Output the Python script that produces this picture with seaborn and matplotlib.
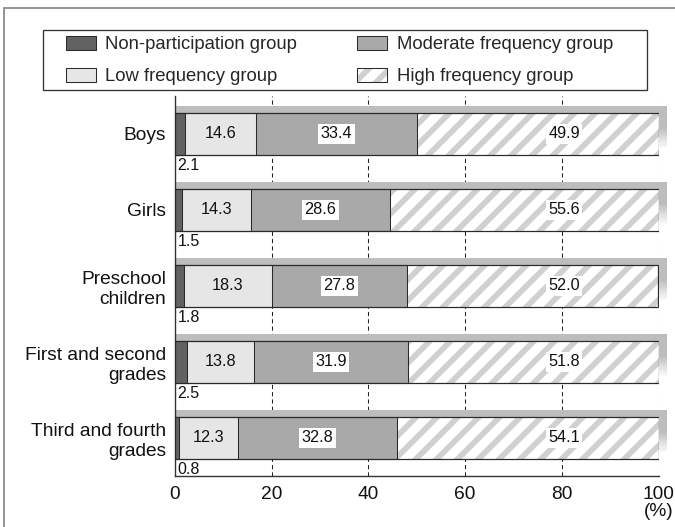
import matplotlib
matplotlib.use("Agg")
import matplotlib.pyplot as plt
import seaborn as sns
import pandas as pd
import numpy as np
from matplotlib.patches import Rectangle, Patch
from matplotlib.legend_handler import HandlerTuple
from matplotlib.colors import to_rgb

# ---------------- data ----------------
categories = ["Boys", "Girls", "Preschool\nchildren",
              "First and second\ngrades", "Third and fourth\ngrades"]
non_participation = [2.1, 1.5, 1.8, 2.5, 0.8]
low_frequency = [14.6, 14.3, 18.3, 13.8, 12.3]
moderate_frequency = [33.4, 28.6, 27.8, 31.9, 32.8]
high_frequency = [49.9, 55.6, 52.0, 51.8, 54.1]
group_names = ["Non-participation group", "Low frequency group",
               "Moderate frequency group", "High frequency group"]
x_ticks = [0, 20, 40, 60, 80, 100]
x_unit_label = "(%)"

# ---------------- style ----------------
W, H, DPI = 675, 527, 125
sns.set_style("white")
plt.rcParams["font.family"] = ["Liberation Sans", "DejaVu Sans"]
plt.rcParams["hatch.linewidth"] = 3.3

C_NON = "#626262"
C_LOW = "#e6e6e6"
C_MOD = "#a9a9a9"
C_HATCH = "#d0d0d0"
C_SHADOW = "#bdbdbd"
C_EDGE = "#2a2a2a"
FS = 11.0
FS_LEG = 10.7
FS_VAL = 9.4
Z_SHADOW, Z_BAR, Z_OUT, Z_TXT = 10, 11, 12, 14

fig = plt.figure(figsize=(W / DPI, H / DPI), dpi=DPI)
ax = fig.add_axes([175 / W, 1 - 476 / H, (658.5 - 175) / W, 380 / H])

df = pd.DataFrame({
    "category": categories,
    "non": non_participation,
    "low": low_frequency,
    "mod": moderate_frequency,
    "high": high_frequency,
})
df["c_non"] = df["non"]
df["c_low"] = df["c_non"] + df["low"]
df["c_mod"] = df["c_low"] + df["mod"]
df["c_high"] = df["c_mod"] + df["high"]

BAR_W = 0.55
common = dict(data=df, y="category", orient="h", width=BAR_W,
              saturation=1, errorbar=None, ax=ax)

# hatched (high frequency) base spanning the whole bar
sns.barplot(x="c_high", color="white", edgecolor=C_HATCH, linewidth=0,
            hatch="//", zorder=Z_BAR, **common)
sns.barplot(x="c_mod", color=C_MOD, edgecolor=C_EDGE, linewidth=0.6,
            zorder=Z_BAR, **common)
sns.barplot(x="c_low", color=C_LOW, edgecolor=C_EDGE, linewidth=0.6,
            zorder=Z_BAR, **common)
sns.barplot(x="c_non", color=C_NON, edgecolor=C_EDGE, linewidth=0.6,
            zorder=Z_BAR, **common)
# outline of the full bar
sns.barplot(x="c_high", fill=False, color=C_EDGE, linewidth=0.7,
            zorder=Z_OUT, **common)

ax.set_xlim(0, 100)
ax.set_ylim(len(categories) - 0.5, -0.5)

# drop shadows behind each bar (offset up and to the right, fading)
ax_w_px = (658.5 - 175)
ax_h_px = 380
dx = 8.5 * 100 / ax_w_px
dy = 7.0 * len(categories) / ax_h_px
shadow_rgb = np.array(to_rgb(C_SHADOW))
n_steps = 8
for i, total in enumerate(df["c_high"]):
    top = i - BAR_W / 2 - dy
    ax.add_patch(Rectangle((0, top), total + dx, dy, facecolor=C_SHADOW,
                           edgecolor="none", zorder=Z_SHADOW,
                           clip_on=False))
    strip_top = top + dy
    strip_h = BAR_W - dy
    solid_h = strip_h * 0.45
    ax.add_patch(Rectangle((total, strip_top), dx, solid_h,
                           facecolor=C_SHADOW, edgecolor="none",
                           zorder=Z_SHADOW, clip_on=False))
    step_h = (strip_h - solid_h) / n_steps
    for k in range(n_steps):
        t = (k + 1) / (n_steps + 1)
        col = shadow_rgb * (1 - t) + np.ones(3) * t
        ax.add_patch(Rectangle((total, strip_top + solid_h + k * step_h),
                               dx, step_h, facecolor=col, edgecolor="none",
                               zorder=Z_SHADOW, clip_on=False))

ax.set_xlim(0, 100)
ax.set_ylim(len(categories) - 0.5, -0.5)

# value labels
for i in range(len(categories)):
    n, lo, mo, hi = (non_participation[i], low_frequency[i],
                     moderate_frequency[i], high_frequency[i])
    ax.text(n + lo / 2, i, f"{lo:.1f}", ha="center", va="center",
            fontsize=FS_VAL, color="#111", zorder=Z_TXT)
    ax.text(n + lo + mo / 2, i, f"{mo:.1f}", ha="center", va="center",
            fontsize=FS_VAL, color="#111", zorder=Z_TXT,
            bbox=dict(boxstyle="square,pad=0.15", fc="white", ec="none"))
    ax.text(80.5, i, f"{hi:.1f}", ha="center", va="center",
            fontsize=FS_VAL, color="#111", zorder=Z_TXT,
            bbox=dict(boxstyle="square,pad=0.15", fc="white", ec="none"))
    ax.annotate(f"{n:.1f}", xy=(0, i + BAR_W / 2), xytext=(1.5, -2.0),
                textcoords="offset points", ha="left", va="top",
                fontsize=9.2, color="#111", zorder=Z_TXT)

# axes styling
ax.set_xticks(x_ticks)
ax.set_xticklabels([str(t) for t in x_ticks])
ax.set_xlabel("")
ax.set_ylabel("")
ax.grid(axis="x", color="#222222", linestyle=(0, (4, 3)), linewidth=0.6)
ax.grid(axis="y", visible=False)
ax.set_axisbelow(True)
for s in ["top", "right"]:
    ax.spines[s].set_visible(False)
for s in ["left", "bottom"]:
    ax.spines[s].set_color("#333333")
    ax.spines[s].set_linewidth(0.8)
    ax.spines[s].set_zorder(Z_SHADOW + 0.5)
ax.tick_params(axis="both", length=0, labelsize=FS, colors="#111")
ax.tick_params(axis="y", pad=5.2)
ax.tick_params(axis="x", pad=6.0)
for lab in ax.get_yticklabels():
    lab.set_linespacing(1.25)

fig.text(674 / W, 1 - 511 / H, x_unit_label, ha="right", va="center",
         fontsize=FS, color="#111")

# legend
handles = [
    Patch(facecolor=C_NON, edgecolor=C_EDGE, linewidth=0.6),
    Patch(facecolor=C_LOW, edgecolor=C_EDGE, linewidth=0.6),
    Patch(facecolor=C_MOD, edgecolor=C_EDGE, linewidth=0.6),
    (Patch(facecolor="white", edgecolor=C_HATCH, hatch="//", linewidth=0),
     Patch(fill=False, edgecolor=C_EDGE, linewidth=0.6)),
]
fig.legend(handles, group_names, loc="upper left",
           bbox_to_anchor=(65.7 / W, 1 - 35.5 / H), ncol=2, frameon=False,
           borderpad=0, borderaxespad=0, handlelength=1.62,
           handleheight=0.82, handletextpad=0.52, columnspacing=3.2,
           labelspacing=0.78, fontsize=FS_LEG,
           handler_map={tuple: HandlerTuple(ndivide=1)})
fig.add_artist(Rectangle((43 / W, 1 - 90 / H), 604 / W, 60 / H,
                         transform=fig.transFigure, fill=False,
                         edgecolor="#333333", linewidth=0.75))
# outer frame of the figure
fig.add_artist(Rectangle((4 / W, -0.05), 1.2, 1.05 - 8 / H,
                         transform=fig.transFigure, fill=False,
                         edgecolor="#888888", linewidth=1.0))

fig.savefig("out.png", dpi=DPI)
